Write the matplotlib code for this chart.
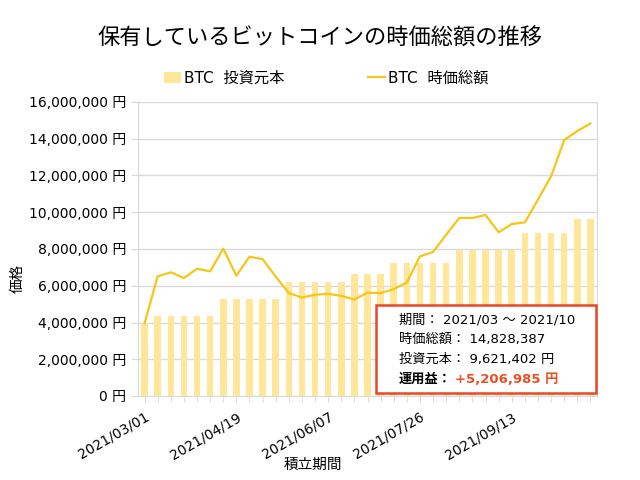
import matplotlib
matplotlib.use("Agg")
import matplotlib.pyplot as plt
import numpy as np
import pandas as pd

plt.rcParams['font.family'] = ['DejaVu Sans', 'Noto Sans CJK JP']

# 週ごとの積立データ (2021/03/01 から)
dates = pd.date_range("2021-03-01", periods=35, freq="7D").strftime("%Y/%m/%d").tolist()
principal = [4.00, 4.36, 4.36, 4.36, 4.36, 4.36,
             5.29, 5.29, 5.29, 5.29, 5.29,
             6.18, 6.18, 6.18, 6.18, 6.18,
             6.65, 6.65, 6.65,
             7.24, 7.24, 7.24, 7.24, 7.24,
             7.96, 7.96, 7.96, 7.96, 7.96,
             8.87, 8.87, 8.87, 8.87,
             9.62, 9.62]
market_value = [3.96, 6.51, 6.73, 6.42, 6.93, 6.78, 8.02, 6.55, 7.58, 7.45,
                6.50, 5.60, 5.36, 5.51, 5.56, 5.45, 5.25, 5.62, 5.60, 5.82,
                6.18, 7.60, 7.84, 8.78, 9.69, 9.69, 9.85, 8.91, 9.36, 9.45,
                10.69, 11.96, 13.93, 14.42, 14.83]
principal = [v * 1e6 for v in principal]
market_value = [v * 1e6 for v in market_value]
yticks = np.arange(0, 16000001, 2000000)

bar_color = "#FFE699"
line_color = "#F5C518"
grid_color = "#D9D9D9"

fig = plt.figure(figsize=(6.4, 4.8), dpi=100)
ax = fig.add_axes([138 / 640, 84 / 480, 459 / 640, 294 / 480])

x = np.arange(len(dates))
bars = ax.bar(x, principal, width=0.5, color=bar_color, label="BTC  投資元本", zorder=2)
line, = ax.plot(x, market_value, color=line_color, linewidth=1.6, label="BTC  時価総額", zorder=3)

ax.set_xlim(-0.5, len(dates) - 0.5)
ax.set_ylim(0, 16000000)
ax.set_yticks(yticks)
ax.set_yticklabels([f"{v:,} 円" for v in yticks], fontsize=10)
ax.yaxis.grid(True, color=grid_color, linewidth=1, zorder=0)
ax.set_axisbelow(True)

ax.set_xticks(x, minor=True)
ax.set_xticks(x[::7])
ax.set_xticklabels(dates[::7], rotation=30, ha="right", rotation_mode="anchor", fontsize=10)
ax.tick_params(axis="x", which="both", length=4, color=grid_color, pad=6)
ax.tick_params(axis="y", length=5, color=grid_color)
for s in ax.spines.values():
    s.set_color(grid_color)
ax.spines["top"].set_visible(False)

ax.set_xlabel("積立期間", fontsize=10.5)
ax.xaxis.set_label_coords((313 - 138) / 459, -(457 - 396) / 294)
ax.set_ylabel("価格", fontsize=10.5)
ax.yaxis.set_label_coords((25 - 138) / 459, (396 - 278) / 294)

fig.text(0.5, 1 - 38 / 480, "保有しているビットコインの時価総額の推移", ha="center", va="center", fontsize=16)
fig.legend([bars, line], ["BTC  投資元本", "BTC  時価総額"], loc="center",
           bbox_to_anchor=(0.51, 1 - 78 / 480), ncol=2, frameon=False,
           fontsize=11, handlelength=1.1, handleheight=0.7, columnspacing=5.5, handletextpad=0.2)

# 運用益ボックス
box = plt.Rectangle((376 / 640, 87 / 480), 220 / 640, 88 / 480, transform=fig.transFigure,
                    facecolor="white", edgecolor="#E8472A", linewidth=1.8, zorder=5)
fig.add_artist(box)
lines = [
    "期間： 2021/03 ～ 2021/10",
    "時価総額： 14,828,387",
    "投資元本： 9,621,402 円",
]
ty = 1 - 320 / 480
for txt in lines:
    fig.text(399 / 640, ty, txt, fontsize=9.5, va="center", zorder=6)
    ty -= 19.7 / 480
fig.text(399 / 640, ty, "運用益：", fontsize=9.5, va="center", fontweight="bold", zorder=6)
fig.text(455 / 640, ty, "+5,206,985 円", fontsize=9.5, va="center", fontweight="bold",
         color="#E8501F", zorder=6)

fig.savefig("out.png", dpi=100)
